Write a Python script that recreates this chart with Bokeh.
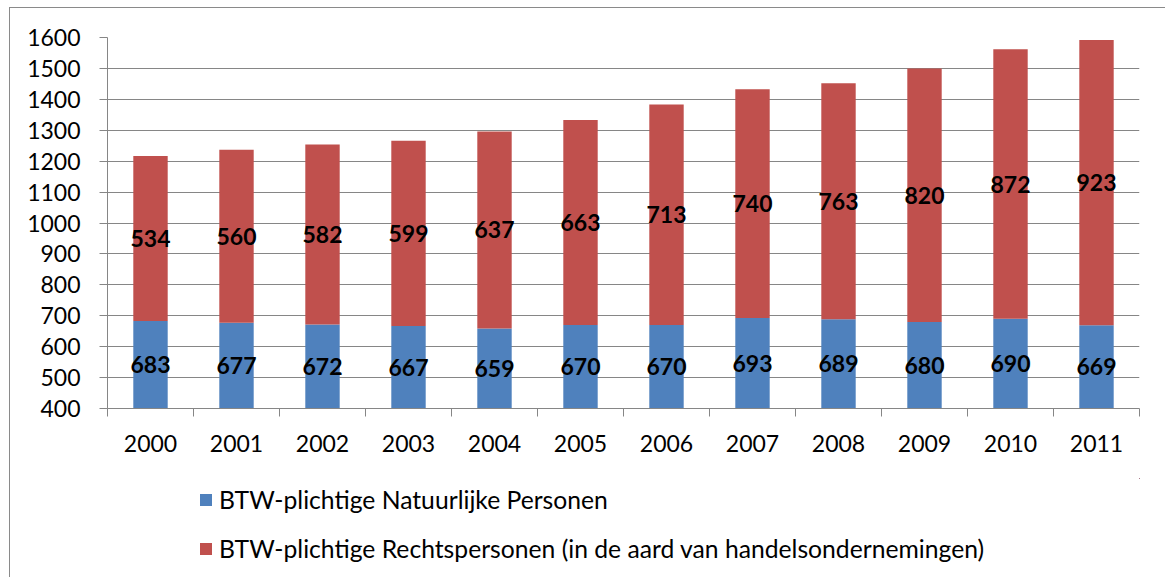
from bokeh.plotting import figure
from bokeh.layouts import column
from bokeh.models import FixedTicker, Legend, LegendItem, ColumnDataSource
from bokeh.core.properties import value
from bokeh.embed import file_html
from bokeh.resources import INLINE

years = ["2000", "2001", "2002", "2003", "2004", "2005", "2006", "2007", "2008", "2009", "2010", "2011"]
natuurlijke = [683, 677, 672, 667, 659, 670, 670, 693, 689, 680, 690, 669]
rechts = [534, 560, 582, 599, 637, 663, 713, 740, 763, 820, 872, 923]
y_ticks = [400, 500, 600, 700, 800, 900, 1000, 1100, 1200, 1300, 1400, 1500, 1600]
series_names = ["BTW-plichtige Natuurlijke Personen",
                "BTW-plichtige Rechtspersonen (in de aard van handelsondernemingen)"]

FONT = "Lato"
GRID = "#868686"
BLUE = "#4F81BD"
RED = "#C0504D"
COLORS = [BLUE, RED]

n = len(years)
xc = [i + 0.5 for i in range(n)]
src = ColumnDataSource(dict(
    x=xc, nat=natuurlijke, rech=rechts,
    nat_lbl=[str(v) for v in natuurlijke],
    rech_lbl=[str(v) for v in rechts],
    nat_mid=[(400 + v) / 2 for v in natuurlijke],
    rech_mid=[a + b / 2 for a, b in zip(natuurlijke, rechts)],
))

# ---------------- main chart ----------------
p = figure(width=1155, height=470, output_backend="svg", toolbar_location=None,
           x_range=(0, n), y_range=(400, 1600),
           min_border_left=97, min_border_right=26, min_border_top=29, min_border_bottom=70)
p.outline_line_color = None
p.background_fill_color = "white"
p.border_fill_color = "white"

p.vbar_stack(["nat", "rech"], x="x", width=0.4, source=src,
             color=COLORS, line_color=None)

for ycol, tcol in (("nat_mid", "nat_lbl"), ("rech_mid", "rech_lbl")):
    p.text(x="x", y=ycol, text=tcol, source=src, text_align="center",
           text_baseline="middle", text_font=value(FONT), text_font_style="bold",
           text_font_size="23px", text_color="black")

# x axis: labels at category centres, tick marks at category boundaries
p.xaxis.ticker = FixedTicker(ticks=xc, minor_ticks=list(range(n + 1)))
p.xaxis.major_label_overrides = {x: y for x, y in zip(xc, years)}
p.xaxis.major_tick_out = 0
p.xaxis.major_tick_in = 0
p.xaxis.minor_tick_out = 8
p.xaxis.minor_tick_in = 0
p.xaxis.minor_tick_line_color = GRID
p.xaxis.axis_line_color = GRID
p.xaxis.major_label_standoff = 18
p.xaxis.major_label_text_font = FONT
p.xaxis.major_label_text_font_size = "23px"
p.xaxis.major_label_text_color = "black"

p.yaxis.ticker = FixedTicker(ticks=y_ticks)
p.yaxis.major_tick_out = 8
p.yaxis.major_tick_in = 0
p.yaxis.minor_tick_line_color = None
p.yaxis.major_tick_line_color = GRID
p.yaxis.axis_line_color = GRID
p.yaxis.major_label_standoff = 19
p.yaxis.major_label_text_font = FONT
p.yaxis.major_label_text_font_size = "23px"
p.yaxis.major_label_text_color = "black"

p.xgrid.grid_line_color = None
p.ygrid.grid_line_color = GRID
p.ygrid.grid_line_width = 1

# ---------------- legend strip ----------------
lg = figure(width=1155, height=99, output_backend="svg", toolbar_location=None,
            x_range=(-1000, -999), y_range=(-2000, -1999), x_axis_type=None, y_axis_type=None,
            min_border_left=0, min_border_right=0, min_border_top=0, min_border_bottom=0)
lg.outline_line_color = None
lg.xgrid.visible = False
lg.ygrid.visible = False
# legend proxies (their bars lie far outside this strip's visible range)
proxies = [lg.vbar(x="x", top=col, width=0.4, source=src, color=c, line_color=None)
           for col, c in zip(["nat", "rech"], COLORS)]

legend = Legend(items=[LegendItem(label=name, renderers=[rr]) for name, rr in zip(series_names, proxies)],
                location=(91, 14), orientation="vertical",
                glyph_width=15, glyph_height=15, label_standoff=6, label_height=30,
                label_text_font=FONT, label_text_font_size="24.7px",
                label_text_color="black", spacing=19, padding=0, margin=0,
                border_line_color=None, background_fill_alpha=0)
lg.add_layout(legend, "center")

layout = column(p, lg, spacing=0)
layout.styles = {"margin-left": "9px", "margin-top": "7px",
                 "border-top": "1px solid #8a8a8a", "border-left": "1px solid #8a8a8a"}

open("out.html", "w").write(file_html(layout, INLINE))
